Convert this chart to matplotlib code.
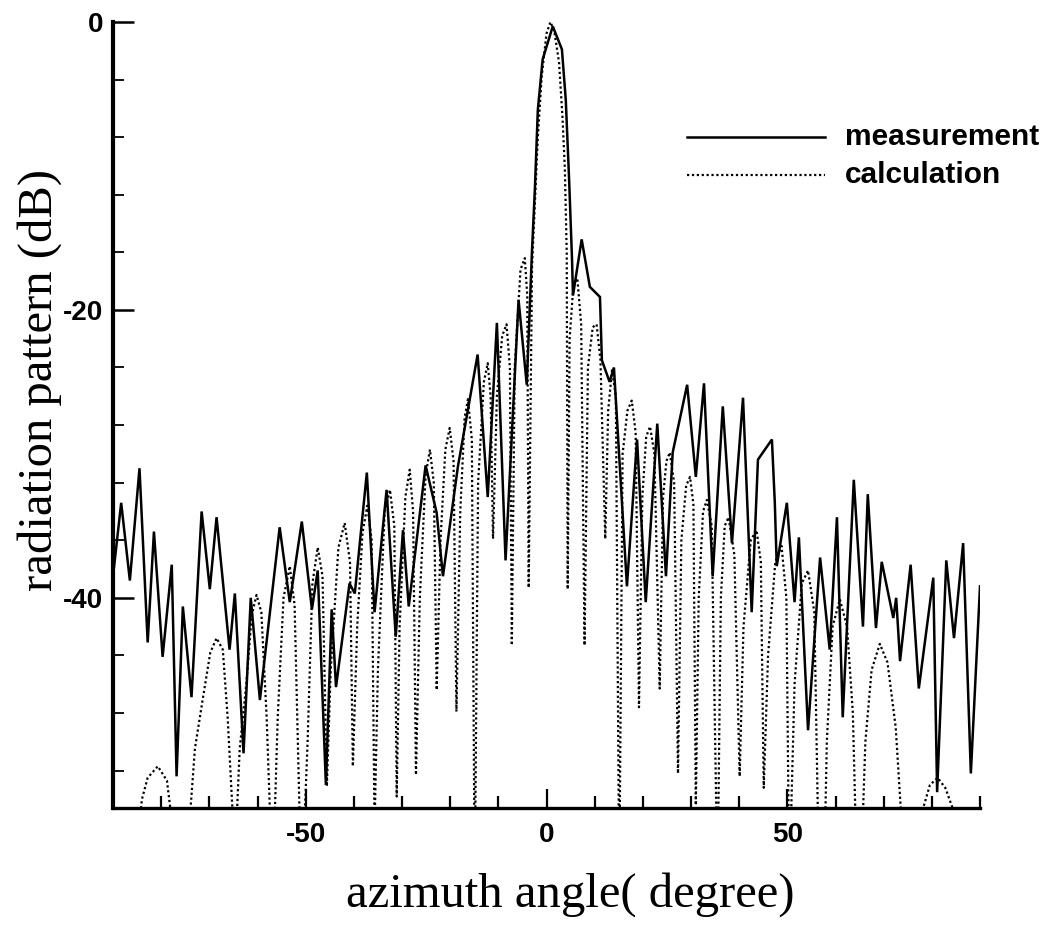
import matplotlib
matplotlib.use("Agg")
import matplotlib.pyplot as plt
from matplotlib.ticker import FixedLocator, MultipleLocator
from matplotlib.lines import Line2D

plt.rcParams['axes.unicode_minus'] = False

# measurement (solid) : azimuth angle (deg), level (dB)
meas_deg = [-90.0, -88.3, -86.5, -84.5, -82.8, -81.5, -79.7, -77.8, -76.8, -75.5,
            -73.7, -71.6, -69.9, -68.5, -65.8, -64.7, -62.9, -61.4, -59.5, -55.4,
            -53.3, -50.8, -48.7, -47.5, -45.8, -44.6, -43.7, -40.9, -39.8, -37.3,
            -35.7, -33.2, -31.3, -29.8, -28.6, -25.1, -22.8, -21.5, -18.4, -14.3,
            -12.2, -10.3, -8.5, -5.8, -4.1, -3.0, -2.4, -1.8, -0.8, 1.3,
            3.2, 4.0, 4.7, 5.3, 5.5, 7.3, 9.0, 11.1, 11.5, 13.1,
            14.0, 16.7, 18.8, 20.6, 23.0, 24.8, 26.2, 29.2, 31.0, 32.7,
            34.5, 36.6, 38.5, 40.8, 42.6, 43.9, 46.8, 47.4, 47.8, 49.9,
            51.5, 52.4, 54.3, 56.8, 58.8, 60.3, 61.5, 63.8, 65.7, 66.7,
            68.4, 69.6, 72.0, 72.6, 73.4, 75.6, 77.3, 80.3, 81.1, 83.0,
            84.6, 86.5, 88.1, 90.0]
meas_db = [-38.5, -33.4, -38.8, -31.0, -43.1, -35.4, -44.1, -37.7, -52.4, -40.6,
           -46.9, -34.0, -39.4, -34.4, -43.6, -39.7, -50.8, -40.0, -47.1, -35.1,
           -40.3, -34.7, -40.8, -38.1, -53.0, -40.8, -46.2, -39.0, -39.7, -31.3,
           -41.0, -32.5, -42.7, -35.3, -40.6, -30.8, -34.1, -38.5, -30.9, -23.1,
           -33.0, -20.9, -37.4, -19.3, -25.2, -15.8, -11.5, -6.1, -2.6, -0.3,
           -1.9, -5.4, -11.0, -16.5, -19.0, -15.1, -18.4, -19.1, -23.5, -25.0,
           -24.0, -39.2, -29.0, -40.3, -27.9, -38.5, -29.9, -25.2, -31.6, -25.1,
           -38.5, -26.7, -36.2, -26.1, -41.0, -30.4, -29.0, -33.4, -37.8, -33.4,
           -40.3, -35.8, -49.2, -37.2, -43.6, -34.4, -48.3, -31.8, -42.0, -32.8,
           -42.1, -37.5, -41.4, -40.0, -44.4, -37.7, -46.3, -38.6, -53.5, -37.4,
           -42.8, -36.2, -52.2, -39.2]

# calculation (dotted) : azimuth angle (deg), level (dB)
calc_deg = [-90.0, -84.6, -84.0, -82.8, -80.7, -78.8, -77.6,
            -74.2, -73.0, -71.4, -69.8, -68.5, -67.2, -66.2, -65.0,
            -64.4, -63.7, -62.3, -61.2, -60.2, -59.2, -58.1, -57.3,
            -56.5, -55.8, -54.6, -53.3, -52.3, -51.2,
            -50.3, -49.6, -48.6, -47.5, -46.5, -45.6,
            -44.8, -43.2, -41.9, -40.8, -40.2,
            -39.3, -38.2, -37.2, -36.3, -35.7,
            -35.0, -33.6, -32.5, -31.6, -31.1,
            -30.5, -29.3, -28.4, -27.7, -27.1,
            -26.3, -25.1, -24.2, -23.4, -22.8,
            -22.0, -21.0, -20.1, -19.3, -18.7,
            -17.9, -17.0, -16.3, -15.5, -14.9,
            -14.2, -13.0, -12.2, -11.6, -11.1,
            -10.3, -9.2, -8.3, -7.6, -7.2,
            -6.6, -5.4, -4.5, -4.0, -3.7,
            -3.0, -2.4, -1.8, -1.0, 0.0, 0.8, 1.6, 2.6, 3.3, 3.8, 4.2, 4.4,
            4.8, 5.6, 6.4, 7.2, 7.9,
            8.6, 9.6, 10.4, 11.2, 12.2,
            12.8, 13.6, 14.4, 15.1,
            15.8, 16.8, 17.7, 18.5, 19.2,
            19.9, 20.7, 21.5, 22.4, 23.5,
            24.2, 24.9, 25.6, 26.5, 27.3,
            28.0, 29.0, 29.8, 30.5, 31.0,
            31.6, 32.5, 33.3, 34.3, 35.5,
            36.2, 37.0, 37.8, 39.0, 40.1,
            40.9, 42.4, 43.6, 44.5, 45.1,
            46.0, 47.5, 48.8, 49.8, 50.4,
            51.5, 53.0, 54.3, 55.6, 56.6,
            57.6, 58.2, 59.4, 60.9, 62.4, 63.6, 64.5,
            65.2, 66.2, 67.5, 69.2, 70.8, 72.5, 73.8,
            77.8, 78.3, 79.6, 81.2, 82.8, 84.2, 84.8, 90.0]
calc_db = [-60.0, -56.0, -54.0, -52.5, -51.7, -52.7, -56.0,
           -56.0, -50.5, -47.1, -43.8, -42.8, -43.6, -48.3, -56.0,
           -56.0, -50.5, -45.9, -41.2, -39.8, -41.0, -48.3, -56.0,
           -56.0, -48.3, -40.0, -37.8, -40.5, -56.0,
           -56.0, -50.0, -39.0, -36.5, -38.5, -53.1,
           -45.0, -36.5, -34.8, -37.5, -51.7,
           -42.0, -35.5, -33.6, -36.0, -56.0,
           -45.0, -34.0, -32.5, -35.0, -53.8,
           -42.0, -33.0, -31.1, -34.0, -52.3,
           -40.0, -31.5, -29.7, -32.0, -46.4,
           -36.0, -29.7, -28.2, -30.5, -47.9,
           -34.0, -27.5, -26.2, -29.0, -60.0,
           -32.0, -25.0, -23.7, -26.0, -35.9,
           -26.0, -21.8, -21.0, -24.0, -43.3,
           -24.0, -17.2, -16.4, -19.0, -39.3,
           -17.0, -12.5, -8.0, -3.8, -0.8, 0.0, -0.6, -2.8, -6.5, -10.1, -16.0, -39.4,
           -22.0, -18.2, -17.8, -21.0, -43.3,
           -24.0, -21.2, -21.0, -23.5, -35.9,
           -27.0, -24.2, -26.0, -60.0,
           -30.0, -27.0, -26.3, -28.5, -47.6,
           -33.0, -28.8, -28.1, -30.0, -46.3,
           -33.0, -30.5, -29.9, -32.0, -52.2,
           -36.0, -32.2, -31.6, -33.5, -54.4,
           -40.0, -34.0, -33.2, -35.0, -60.0,
           -40.0, -35.0, -34.4, -37.0, -52.4,
           -42.0, -36.0, -35.3, -37.5, -53.2,
           -44.0, -37.5, -36.4, -40.0, -60.0,
           -46.0, -39.0, -38.1, -41.0, -60.0,
           -60.0, -50.0, -42.0, -40.1, -42.0, -48.0, -60.0,
           -60.0, -50.0, -45.0, -43.2, -44.5, -49.0, -56.0,
           -56.0, -54.5, -53.0, -52.5, -53.2, -54.5, -57.0, -60.0]

series_names = ["measurement", "calculation"]
x_major = [-50, 0, 50]
y_major = [0, -20, -40]
y_major_labels = ["0", "-20", "-40"]

W, H = 1060, 936
fig = plt.figure(figsize=(W / 100, H / 100), dpi=100)
ax = fig.add_axes([113 / W, 1 - 808 / H, (980 - 113) / W, (808 - 22) / H])

ax.plot(meas_deg, meas_db, color="black", lw=1.8, solid_joinstyle="miter")
ax.plot(calc_deg, calc_db, color="black", lw=1.6, linestyle=(0, (1.0, 1.2)))

ax.set_xlim(-90, 90)
ax.set_ylim(-54.6, 0)

ax.spines["top"].set_visible(False)
ax.spines["right"].set_visible(False)
ax.spines["left"].set_linewidth(3.0)
ax.spines["bottom"].set_linewidth(2.4)

ax.xaxis.set_major_locator(FixedLocator(x_major))
ax.xaxis.set_minor_locator(MultipleLocator(10))
ax.yaxis.set_major_locator(FixedLocator(y_major))
ax.yaxis.set_minor_locator(MultipleLocator(4))
ax.set_yticklabels(y_major_labels)

ax.tick_params(axis="both", which="both", direction="in", top=False, right=False)
ax.tick_params(axis="x", which="major", length=14, width=1.6, pad=10)
ax.tick_params(axis="x", which="minor", length=9, width=1.6)
ax.tick_params(axis="y", which="major", length=15, width=1.8, pad=7)
ax.tick_params(axis="y", which="minor", length=8, width=1.3)
for lab in ax.get_xticklabels() + ax.get_yticklabels():
    lab.set_fontfamily("Liberation Sans")
    lab.set_fontweight("bold")
    lab.set_fontsize(20)

fig.text(570 / W, 1 - 895 / H, "azimuth angle( degree)", family="Liberation Serif",
         size=35, ha="center", va="center")
fig.text(40 / W, 1 - 380 / H, "radiation pattern (dB)", family="Liberation Serif",
         size=35, ha="center", va="center", rotation=90)

# legend
leg_styles = [dict(lw=1.8, linestyle="-"), dict(lw=1.6, linestyle=(0, (1.0, 1.2)))]
leg_y = [137, 175]
for name, st, yy in zip(series_names, leg_styles, leg_y):
    fig.add_artist(Line2D([687 / W, 825 / W], [1 - yy / H, 1 - yy / H],
                          color="black", transform=fig.transFigure, **st))
    fig.text(845 / W, 1 - yy / H, name, family="Liberation Sans", weight="bold",
             size=21.5, ha="left", va="center")

fig.savefig("out.png", dpi=100)
